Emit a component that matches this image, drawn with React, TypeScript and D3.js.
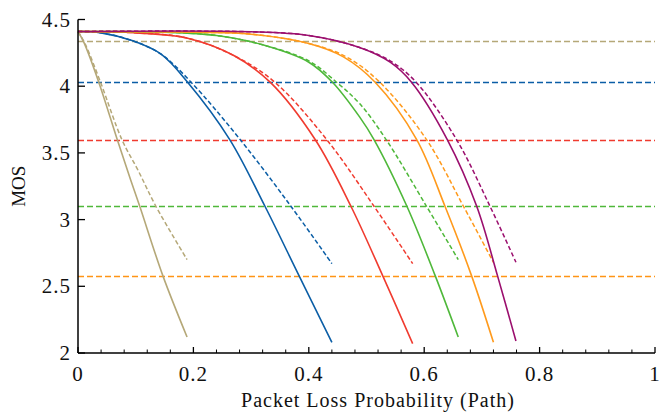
import * as d3 from 'd3';

const W = 659;
const H = 412;

// x = packet loss probability, y = MOS
const tanSolid = [[0, 4.41], [0.01, 4.33], [0.036, 4.03], [0.068, 3.6], [0.091, 3.3], [0.107, 3.1], [0.147, 2.58], [0.189, 2.12]];
const tanDashed = [[0, 4.41], [0.012, 4.32], [0.039, 4.03], [0.076, 3.6], [0.104, 3.37], [0.135, 3.1], [0.189, 2.7]];

const blueSolid = [[0, 4.41], [0.04, 4.4], [0.095, 4.34], [0.144, 4.24], [0.19, 4.03], [0.263, 3.6], [0.324, 3.1], [0.383, 2.58], [0.44, 2.08]];
const blueDashed = [[0, 4.41], [0.04, 4.4], [0.095, 4.34], [0.144, 4.24], [0.196, 4.03], [0.281, 3.6], [0.369, 3.1], [0.44, 2.67]];

const redSolid = [[0, 4.41], [0.1, 4.4], [0.19, 4.36], [0.27, 4.23], [0.333, 4.03], [0.411, 3.6], [0.473, 3.1], [0.528, 2.58], [0.58, 2.07]];
const redDashed = [[0, 4.41], [0.1, 4.4], [0.19, 4.36], [0.27, 4.23], [0.341, 4.03], [0.431, 3.6], [0.513, 3.1], [0.58, 2.67]];

const greenSolid = [[0, 4.41], [0.15, 4.405], [0.24, 4.38], [0.32, 4.31], [0.4, 4.18], [0.441, 4.03], [0.488, 3.77], [0.513, 3.6], [0.57, 3.1], [0.619, 2.58], [0.659, 2.12]];
const greenDashed = [[0, 4.41], [0.15, 4.405], [0.24, 4.38], [0.32, 4.31], [0.4, 4.19], [0.448, 4.03], [0.488, 3.87], [0.534, 3.6], [0.604, 3.1], [0.659, 2.7]];

const orangeSolid = [[0, 4.41], [0.2, 4.405], [0.3, 4.39], [0.4, 4.32], [0.46, 4.22], [0.515, 4.03], [0.587, 3.6], [0.636, 3.1], [0.682, 2.58], [0.72, 2.08]];
const orangeDashed = [[0, 4.41], [0.2, 4.405], [0.3, 4.39], [0.4, 4.32], [0.465, 4.22], [0.523, 4.03], [0.604, 3.6], [0.668, 3.1], [0.72, 2.68]];

const purpleSolid = [[0, 4.41], [0.3, 4.408], [0.4, 4.38], [0.488, 4.29], [0.541, 4.18], [0.578, 4.03], [0.64, 3.6], [0.691, 3.1], [0.727, 2.58], [0.759, 2.09]];
const purpleDashed = [[0, 4.41], [0.3, 4.408], [0.4, 4.38], [0.488, 4.29], [0.541, 4.19], [0.586, 4.03], [0.656, 3.6], [0.714, 3.1], [0.759, 2.68]];

// horizontal thresholds
const thresholds = [
  { value: 4.34, color: '#b5a878' },
  { value: 4.03, color: '#0b5ea6' },
  { value: 3.6, color: '#f03b2f' },
  { value: 3.1, color: '#4fb83a' },
  { value: 2.58, color: '#ff9515' },
];

const series = [
  { solid: tanSolid, dashed: tanDashed, color: '#b5a878' },
  { solid: blueSolid, dashed: blueDashed, color: '#0b5ea6' },
  { solid: redSolid, dashed: redDashed, color: '#f03b2f' },
  { solid: greenSolid, dashed: greenDashed, color: '#4fb83a' },
  { solid: orangeSolid, dashed: orangeDashed, color: '#ff9a1c' },
  { solid: purpleSolid, dashed: purpleDashed, color: '#9b0f6e' },
];

const xTicks = [0, 0.2, 0.4, 0.6, 0.8, 1];
const xTickLabels = ['0', '0.2', '0.4', '0.6', '0.8', '1'];
const yTicks = [2, 2.5, 3, 3.5, 4, 4.5];
const yTickLabels = ['2', '2.5', '3', '3.5', '4', '4.5'];

export default function App() {
  const x = d3.scaleLinear().domain([0, 1]).range([78, 655]);
  const y = d3.scaleLinear().domain([2, 4.5]).range([353, 19.5]);

  const line = d3
    .line<number[]>()
    .x((d) => x(d[0]))
    .y((d) => y(d[1]))
    .curve(d3.curveCatmullRom.alpha(0.5));

  const minorTicks = d3.range(0, 1.0001, 0.04).filter((t) => Math.abs(t / 0.2 - Math.round(t / 0.2)) > 1e-6);

  const font = '"Liberation Serif", "Times New Roman", serif';

  return (
    <svg width={W} height={H} style={{ position: 'absolute', left: 0, top: 0, background: '#fff' }}>
      <g>
        {thresholds.map((t, i) => {
          const yy = Math.round(y(t.value)) + 0.5;
          return (
            <line
              key={i}
              x1={x(0)}
              x2={x(1)}
              y1={yy}
              y2={yy}
              stroke={t.color}
              strokeWidth={1.6}
              strokeDasharray="6,3"
            />
          );
        })}
      </g>
      <g fill="none">
        {series.map((s, i) => (
          <g key={i}>
            <path d={line(s.dashed) || ''} stroke={s.color} strokeWidth={1.5} strokeDasharray="4.5,2.5" />
            <path d={line(s.solid) || ''} stroke={s.color} strokeWidth={1.6} />
          </g>
        ))}
      </g>

      {/* axes */}
      <line x1={x(0)} x2={x(0)} y1={y(4.5)} y2={y(2)} stroke="#000" strokeWidth={1.5} />
      <line x1={x(0)} x2={x(1)} y1={y(2)} y2={y(2)} stroke="#000" strokeWidth={1.5} />
      {xTicks.map((t) => (
        <line key={'xt' + t} x1={x(t)} x2={x(t)} y1={y(2)} y2={y(2) - 6} stroke="#000" strokeWidth={1.3} />
      ))}
      {minorTicks.map((t) => (
        <line key={'xm' + t} x1={x(t)} x2={x(t)} y1={y(2)} y2={y(2) - 3.5} stroke="#000" strokeWidth={1} />
      ))}
      {yTicks.map((t) => (
        <line key={'yt' + t} x1={x(0)} x2={x(0) + 7} y1={y(t)} y2={y(t)} stroke="#000" strokeWidth={1.3} />
      ))}

      <g fontFamily={font} fontSize={21} fill="#111" letterSpacing={1}>
        {xTicks.map((t, i) => (
          <text key={'xl' + t} x={x(t)} y={381} textAnchor="middle">
            {xTickLabels[i]}
          </text>
        ))}
        {yTicks.map((t, i) => (
          <text key={'yl' + t} x={71} y={y(t) + 7} textAnchor="end">
            {yTickLabels[i]}
          </text>
        ))}
      </g>
      <text
        x={378}
        y={407}
        textAnchor="middle"
        fontFamily={font}
        fontSize={20}
        letterSpacing={1}
        fill="#111"
      >
        Packet Loss Probability (Path)
      </text>
      <text
        transform={`translate(25,${y(3.25)}) rotate(-90)`}
        textAnchor="middle"
        fontFamily={font}
        fontSize={19}
        fill="#111"
      >
        MOS
      </text>
    </svg>
  );
}
